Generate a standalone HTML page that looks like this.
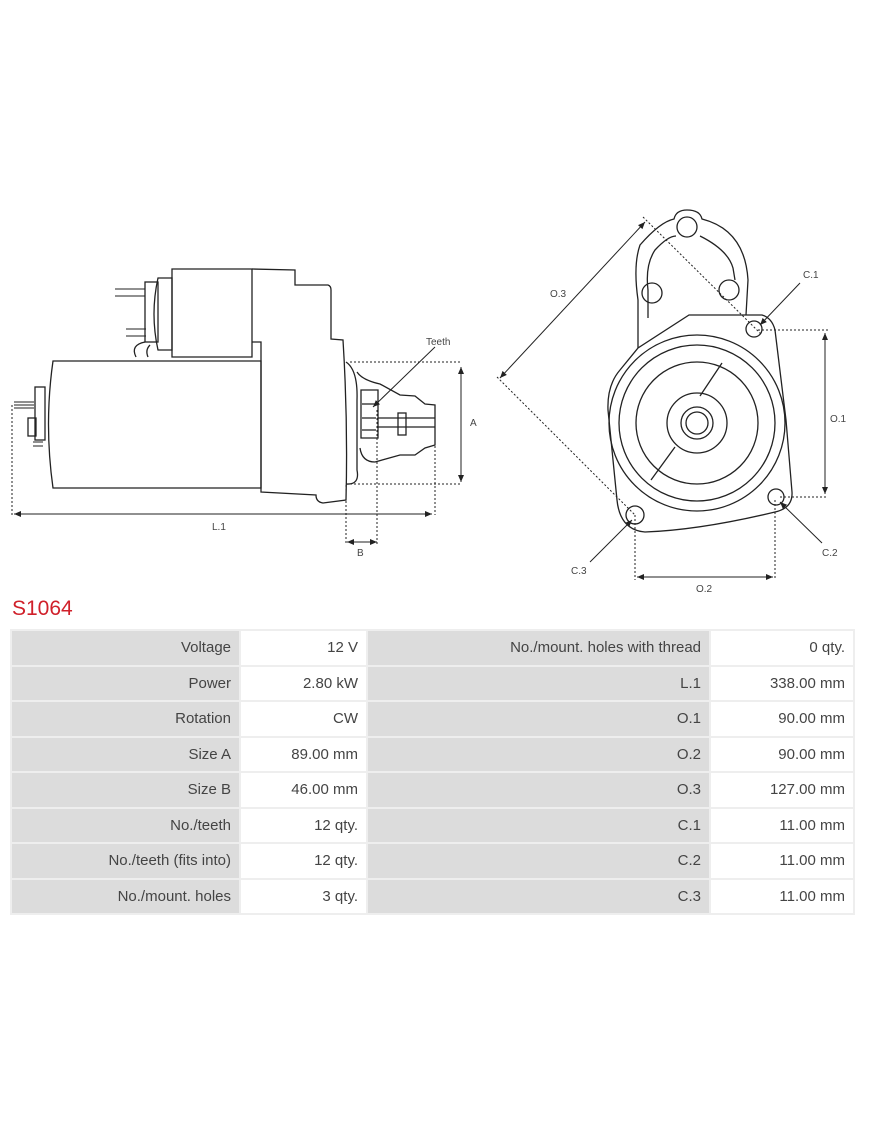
<!DOCTYPE html>
<html><head><meta charset="utf-8"><style>
body{margin:0;width:870px;height:1128px;background:#fff;position:relative;font-family:"Liberation Sans",sans-serif;overflow:hidden}
svg{position:absolute;left:0;top:0}
.t{position:absolute;left:12px;top:597px;color:#d0202a;font-size:21px}
table{position:absolute;left:10px;top:629px;border-collapse:separate;border-spacing:2px;background:#eee;width:845px}
td{height:33.5px;padding:0 8px;text-align:right;font-size:15px;color:#444}
td.g{background:#dcdcdc}td.w{background:#fff}
</style></head><body>
<svg width="870" height="1128" fill="none" stroke="#222" stroke-width="1.3" font-family="Liberation Sans" font-size="10">
<defs><marker id="a" markerWidth="8" markerHeight="8" refX="7" refY="4" orient="auto"><path d="M0,1 L7,4 L0,7z" fill="#222" stroke="none"/></marker>
<marker id="b" markerWidth="8" markerHeight="8" refX="0" refY="4" orient="auto"><path d="M7,1 L0,4 L7,7z" fill="#222" stroke="none"/></marker></defs>
<!-- left drawing -->
<path d="M53,361 L261,361 L261,488 L53,488 Q44,424 53,361z"/>
<rect x="35" y="387" width="10" height="53"/>
<rect x="28" y="418" width="8" height="18"/>
<path d="M14,402h20M14,405h20M14,408h20M33,442h10M33,446h10" stroke-width="1"/>
<path d="M172,269 L252,269 L252,357 L172,357z"/>
<path d="M158,278 L172,278 L172,350 L158,350 Q150,314 158,278z"/>
<rect x="145" y="282" width="13" height="60"/>
<path d="M115,289h30M115,296h30M126,329h20M126,336h20" stroke-width="1"/>
<path d="M136,357 Q130,345 145,342 M148,357 Q145,350 150,345"/>
<path d="M252,269 L295,270 L295,285 L328,285 Q331,286 331,290 L331,339 L343,340 Q348,420 346,500 L323,503 Q316,502 316,495 L261,492 L261,342 L252,342"/>
<path d="M346,362 Q358,370 357,400 L357,470 Q360,485 346,484"/>
<path d="M357,372 Q362,380 380,384 L400,395 L415,396 L425,404 L435,405 L435,445 L425,448 L415,455 L400,455 L375,462 Q362,462 360,448"/>
<path d="M361,390 L378,390 L378,438 L361,438z M362,404h14M362,418h14M362,430h14 M378,418h57M378,427h57"/>
<rect x="398" y="413" width="8" height="22"/>
<g stroke-dasharray="2,2" stroke-width="1"><path d="M12,405V515M350,362H462M350,484H462M346,485V544M377,410V544M435,430V515"/></g>
<g stroke-width="1" marker-start="url(#b)" marker-end="url(#a)">
<path d="M14,514H432"/><path d="M461,367V482"/><path d="M347,542H377"/>
<path d="M645,222L500,378"/><path d="M825,333V494"/><path d="M637,577H773"/>
</g>
<g stroke-width="1" marker-end="url(#a)">
<path d="M435,347L373,407"/><path d="M800,283L760,325"/><path d="M822,543L780,502"/><path d="M590,562L632,520"/>
</g>
<g fill="#444" stroke="none"><text x="426" y="345">Teeth</text><text x="470" y="426">A</text><text x="212" y="530">L.1</text><text x="357" y="556">B</text></g>
<!-- right drawing -->
<path d="M689,315 L762,315 Q772,318 775,330 L786,420 L792,492 Q793,508 775,512 Q700,530 645,532 Q620,530 617,500 L608,410 Q607,385 620,370 L638,348 Z"/>
<path d="M638,348 L638,300 Q633,265 640,245 Q660,222 674,219 Q676,210 687,210 Q700,210 702,219 Q745,230 748,280 L746,315 M648,318 L648,290 Q645,265 655,250 Q668,236 676,236 M700,236 Q728,250 733,268 L735,280"/>
<circle cx="687" cy="227" r="10"/><circle cx="652" cy="293" r="10"/><circle cx="729" cy="290" r="10"/>
<circle cx="754" cy="329" r="8"/><circle cx="776" cy="497" r="8"/><circle cx="635" cy="515" r="9"/>
<circle cx="697" cy="423" r="88"/><circle cx="697" cy="423" r="78"/><circle cx="697" cy="423" r="61"/><circle cx="697" cy="423" r="30"/><circle cx="697" cy="423" r="16"/><circle cx="697" cy="423" r="11"/>
<path d="M722,363L700,396M675,447L651,480"/>
<g stroke-dasharray="2,2" stroke-width="1"><path d="M643,217L762,335M497,377L635,515M758,330H828M780,497H828M635,515V580M775,500V580"/></g>
<g fill="#444" stroke="none"><text x="550" y="297">O.3</text><text x="803" y="278">C.1</text><text x="830" y="422">O.1</text><text x="822" y="556">C.2</text><text x="571" y="574">C.3</text><text x="696" y="592">O.2</text></g>
</svg>
<div class="t">S1064</div>
<table>
<tr><td class="g" style="width:211px">Voltage</td><td class="w" style="width:109px">12 V</td><td class="g" style="width:325px">No./mount. holes with thread</td><td class="w">0 qty.</td></tr>
<tr><td class="g">Power</td><td class="w">2.80 kW</td><td class="g">L.1</td><td class="w">338.00 mm</td></tr>
<tr><td class="g">Rotation</td><td class="w">CW</td><td class="g">O.1</td><td class="w">90.00 mm</td></tr>
<tr><td class="g">Size A</td><td class="w">89.00 mm</td><td class="g">O.2</td><td class="w">90.00 mm</td></tr>
<tr><td class="g">Size B</td><td class="w">46.00 mm</td><td class="g">O.3</td><td class="w">127.00 mm</td></tr>
<tr><td class="g">No./teeth</td><td class="w">12 qty.</td><td class="g">C.1</td><td class="w">11.00 mm</td></tr>
<tr><td class="g">No./teeth (fits into)</td><td class="w">12 qty.</td><td class="g">C.2</td><td class="w">11.00 mm</td></tr>
<tr><td class="g">No./mount. holes</td><td class="w">3 qty.</td><td class="g">C.3</td><td class="w">11.00 mm</td></tr>
</table>
</body></html>
